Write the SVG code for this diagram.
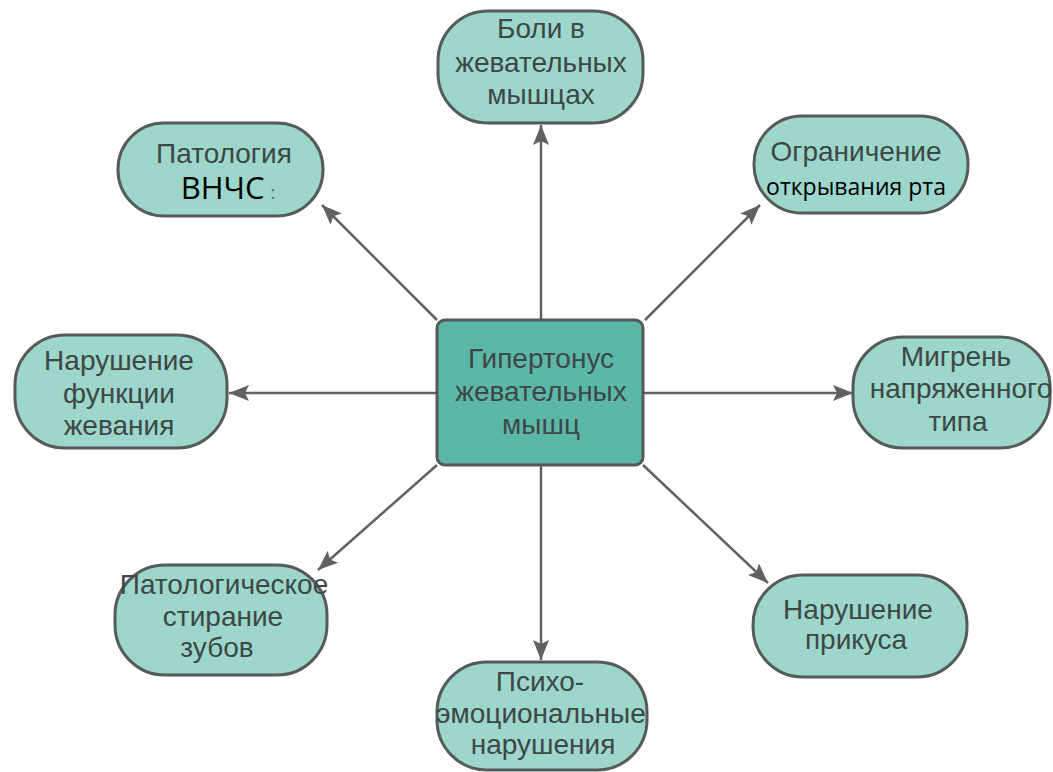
<svg xmlns="http://www.w3.org/2000/svg" width="1053" height="772" viewBox="0 0 1053 772">
<style>
.pill{fill:#9dd6cb;stroke:#555b5a;stroke-width:3}
.hub{fill:#5cb8a6;stroke:#555b5a;stroke-width:3}
.t{font-family:"Liberation Sans",Arial,sans-serif;font-size:28px;fill:#3d4846;text-anchor:middle}
.b{font-family:"Open Sans","Noto Sans",sans-serif;fill:#000;text-anchor:middle}
.c{stroke:#616161;stroke-width:2.5;fill:none;marker-end:url(#ah)}
</style>
<defs>
<marker id="ah" markerUnits="userSpaceOnUse" markerWidth="22" markerHeight="16" refX="20" refY="8" orient="auto">
<path d="M0,0 L20,8 L0,16 L4,8 z" fill="#616161"/>
</marker>
</defs>
<g id="connectors">
<line class="c" x1="541" y1="320" x2="541" y2="125"/>
<line class="c" x1="437" y1="320" x2="322" y2="205"/>
<line class="c" x1="645" y1="320" x2="760" y2="205"/>
<line class="c" x1="437" y1="393" x2="229" y2="393"/>
<line class="c" x1="643" y1="393" x2="853" y2="393"/>
<line class="c" x1="437" y1="465" x2="318" y2="570"/>
<line class="c" x1="541" y1="465" x2="541" y2="660"/>
<line class="c" x1="643" y1="465" x2="768" y2="583"/>
</g>
<g id="hub">
<rect class="hub" x="437" y="320" width="206" height="145" rx="8"/>
<text class="t" x="541" y="368">Гипертонус</text>
<text class="t" x="541" y="401">жевательных</text>
<text class="t" x="541" y="434">мышц</text>
</g>
<g id="n-boli">
<rect class="pill" x="438" y="11" width="205" height="112" rx="50"/>
<text class="t" x="541" y="38">Боли в</text>
<text class="t" x="541" y="72">жевательных</text>
<text class="t" x="541" y="104">мышцах</text>
</g>
<g id="n-vnchs">
<rect class="pill" x="118" y="123" width="205" height="93" rx="46"/>
<text class="t" x="224" y="163">Патология</text>
<text class="b" x="228" y="199" font-size="31">ВНЧС<tspan font-size="18" fill="#666" dx="6">:</tspan></text>
</g>
<g id="n-ogran">
<rect class="pill" x="754" y="116" width="214" height="97" rx="48"/>
<text class="t" x="856" y="161">Ограничение</text>
<text class="b" x="856" y="195" font-size="23">открывания рта</text>
</g>
<g id="n-funk">
<rect class="pill" x="15" y="335" width="212" height="113" rx="50"/>
<text class="t" x="119" y="370">Нарушение</text>
<text class="t" x="119" y="403">функции</text>
<text class="t" x="119" y="435">жевания</text>
</g>
<g id="n-migren">
<rect class="pill" x="853" y="337" width="197" height="111" rx="50"/>
<text class="t" x="956" y="366">Мигрень</text>
<text class="t" x="961" y="398">напряженного</text>
<text class="t" x="958" y="431">типа</text>
</g>
<g id="n-stir">
<rect class="pill" x="115" y="565" width="212" height="110" rx="50"/>
<text class="t" x="224" y="594">Патологическое</text>
<text class="t" x="223" y="626">стирание</text>
<text class="t" x="217" y="657">зубов</text>
</g>
<g id="n-psih">
<rect class="pill" x="437" y="662" width="210" height="108" rx="50"/>
<text class="t" x="540" y="691">Психо-</text>
<text class="t" x="541" y="723">эмоциональные</text>
<text class="t" x="543" y="754">нарушения</text>
</g>
<g id="n-prikus">
<rect class="pill" x="753" y="575" width="214" height="102" rx="50"/>
<text class="t" x="858" y="619">Нарушение</text>
<text class="t" x="856" y="649">прикуса</text>
</g>
</svg>
